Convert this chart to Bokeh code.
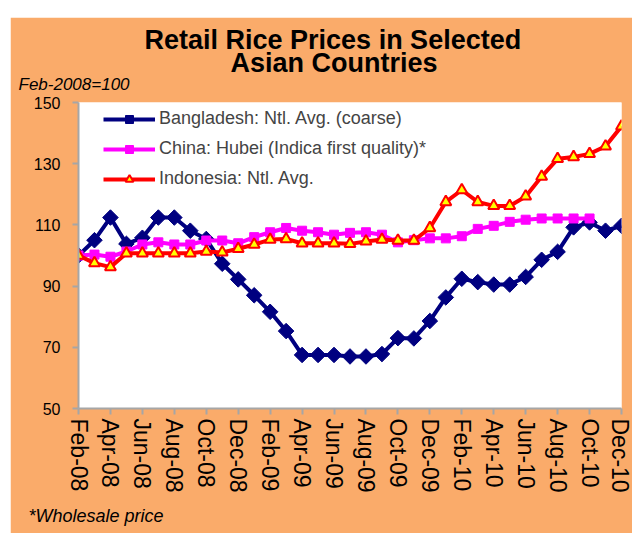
import math
from bokeh.plotting import figure
from bokeh.models import FixedTicker, Range1d, Title
from bokeh.embed import file_html
from bokeh.resources import INLINE

months = ["Feb-08", "Mar-08", "Apr-08", "May-08", "Jun-08", "Jul-08", "Aug-08", "Sep-08",
          "Oct-08", "Nov-08", "Dec-08", "Jan-09", "Feb-09", "Mar-09", "Apr-09", "May-09",
          "Jun-09", "Jul-09", "Aug-09", "Sep-09", "Oct-09", "Nov-09", "Dec-09", "Jan-10",
          "Feb-10", "Mar-10", "Apr-10", "May-10", "Jun-10", "Jul-10", "Aug-10", "Sep-10",
          "Oct-10", "Nov-10", "Dec-10"]
tick_labels = months[::2]
y_ticks = [50, 70, 90, 110, 130, 150]

bangladesh = [100, 105, 112.4, 103.8, 105.8, 112.4, 112.4, 108.1, 105.4, 97.3, 92.2, 87,
              81.6, 75.3, 67.5, 67.5, 67.5, 67, 67, 67.8, 73, 72.9, 78.6, 86.3, 92.4, 91.3,
              90.5, 90.5, 93, 98.6, 101.2, 109.2, 110.8, 108.1, 109.7]
china = [100, 100.3, 99.6, 101.3, 103.6, 104.3, 103.6, 103.6, 104.9, 104.9, 104, 106, 107.6,
         109, 108.1, 107.6, 106.8, 107.4, 107.6, 106.8, 104.3, 105, 105.6, 105.6, 106.3,
         108.7, 109.7, 111, 111.7, 112.1, 112.1, 112.1, 112.1]
indonesia = [100, 97.5, 96.2, 100.7, 100.7, 100.7, 100.7, 100.7, 101.3, 101, 102.2, 103.6,
             105.2, 105.4, 104, 104, 104, 103.8, 104.6, 105.2, 104.9, 104.9, 109, 117.5,
             121.4, 117.5, 116.2, 116.2, 119.3, 125.8, 131.6, 132.2, 133.2, 135.7, 142.2]

names = ["Bangladesh: Ntl. Avg. (coarse)", "China: Hubei (Indica first quality)*",
         "Indonesia: Ntl. Avg."]
title_lines = ["Retail Rice Prices in Selected", "Asian Countries"]
unit_note = "Feb-2008=100"
footnote = "*Wholesale price"

ORANGE = "#FAAB6A"
FONT = "Liberation Sans"

p = figure(width=622, height=516, output_backend="svg", toolbar_location=None,
           x_range=Range1d(0, len(months) - 1), y_range=Range1d(50, 150),
           min_border_left=68, min_border_right=11, min_border_top=84, min_border_bottom=124)
p.margin = (17, 0, 0, 10)
p.background_fill_color = "white"
p.border_fill_color = ORANGE
p.outline_line_color = None
p.xgrid.visible = False
p.ygrid.visible = False

xs = list(range(len(months)))

p.line(xs, bangladesh, line_color="#000080", line_width=4, legend_label=names[0])
p.scatter(xs, bangladesh, marker="square", angle=math.pi / 4, size=11,
          fill_color="#000080", line_color="#000080", legend_label=names[0])

p.line(xs[:len(china)], china, line_color="#FF00FF", line_width=4, legend_label=names[1])
p.scatter(xs[:len(china)], china, marker="square", size=9,
          fill_color="#FF00FF", line_color="#FF00FF", legend_label=names[1])

p.line(xs, indonesia, line_color="#FF0000", line_width=4, legend_label=names[2])
p.scatter(xs, indonesia, marker="triangle", size=11, fill_color="#FFFF00",
          line_color="#FF0000", line_width=2, legend_label=names[2])

# axes
tick_pos = xs[::2]
p.xaxis.ticker = FixedTicker(ticks=tick_pos)
p.xaxis.major_label_overrides = {i: lab for i, lab in zip(tick_pos, tick_labels)}
p.xaxis.major_label_orientation = "vertical"
p.xaxis.major_label_text_font_size = "23px"
p.xaxis.major_label_standoff = 4
p.yaxis.ticker = FixedTicker(ticks=y_ticks)
p.yaxis.major_label_text_font_size = "16px"
p.yaxis.major_label_standoff = 12
for ax in (p.xaxis, p.yaxis):
    ax.axis_line_color = "#A6A6A6"
    ax.axis_line_width = 2
    ax.major_tick_line_color = "#A6A6A6"
    ax.major_tick_line_width = 2
    ax.major_tick_out = 6
    ax.major_tick_in = 0
    ax.minor_tick_line_color = None
    ax.major_label_text_font = FONT
    ax.major_label_text_color = "black"

# legend
lg = p.legend[0]
lg.location = (25, 219)
lg.background_fill_alpha = 0
lg.border_line_color = None
lg.label_text_font = FONT
lg.label_text_font_size = "18px"
lg.glyph_width = 52
lg.glyph_height = 20
lg.spacing = 9
lg.padding = 0
lg.margin = 0
lg.label_standoff = 4

# titles: main title outermost, then the second line, then the index note
p.title.text = title_lines[0]
p.title.align = "left"
p.title.offset = 66
p.title.standoff = 11
p.title.text_font = FONT
p.title.text_font_size = "27px"
p.title.text_font_style = "bold"
p.title.text_color = "black"

p.add_layout(Title(text=unit_note, align="left", offset=-60, standoff=18,
                   text_font=FONT, text_font_size="17px", text_font_style="italic",
                   text_color="black"), "above")
p.add_layout(Title(text=title_lines[1], align="left", offset=152, standoff=-29,
                   text_font=FONT, text_font_size="27px", text_font_style="bold",
                   text_color="black"), "above")

p.add_layout(Title(text=footnote, align="left", offset=-50, standoff=16,
                   text_font=FONT, text_font_size="18px", text_font_style="italic",
                   text_color="black"), "below")

open("out.html", "w").write(file_html(p, INLINE))
